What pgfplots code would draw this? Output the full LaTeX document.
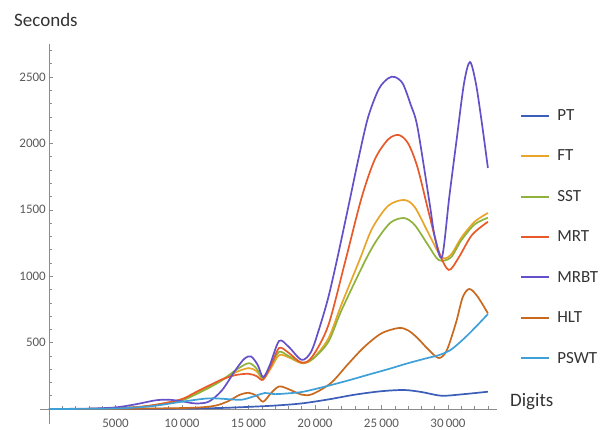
\documentclass[border=0pt]{standalone}
\usepackage{fontspec}
\setmainfont{Carlito}
\usepackage{pgfplots}
\pgfplotsset{compat=1.18}

\definecolor{cPT}{HTML}{3C5DB8}
\definecolor{cFT}{HTML}{E8A52A}
\definecolor{cSST}{HTML}{8FB33A}
\definecolor{cMRT}{HTML}{E85A2A}
\definecolor{cMRBT}{HTML}{6450C8}
\definecolor{cHLT}{HTML}{C8691E}
\definecolor{cPSWT}{HTML}{3FA0D8}
\definecolor{axisgray}{HTML}{8C8C8C}
\definecolor{labelgray}{HTML}{5A5A5A}

\begin{document}
\begin{tikzpicture}[x=1pt,y=1pt]
\useasboundingbox (0,0) rectangle (609,430);
\begin{axis}[
  at={(49pt,21pt)}, anchor=origin,
  x=0.0133pt, y=0.1328pt,
  xmin=-700, xmax=33700, ymin=-110, ymax=2750,
  axis lines*=middle,
  axis line style={axisgray, line width=0.6pt},
  clip=false,
  scaled x ticks=false, scaled y ticks=false,
  xtick={5000,10000,15000,20000,25000,30000},
  xticklabels={5000,10\,000,15\,000,20\,000,25\,000,30\,000},
  minor xtick={1000,2000,...,33000},
  ytick={500,1000,1500,2000,2500},
  yticklabels={500,1000,1500,2000,2500},
  minor ytick={100,200,...,2700},
  tick align=inside,
  major tick length=4pt, minor tick length=2.5pt,
  every tick/.style={axisgray, line width=0.5pt},
  tick label style={font=\fontsize{13}{13}\selectfont, text=labelgray},
  x tick label style={inner sep=2pt, yshift=-8pt},
  y tick label style={inner sep=3pt},
  /pgf/number format/assume math mode=true,
  legend style={at={(1.0435,0.838)}, anchor=north west, draw=none, fill=none,
    font=\fontsize{17}{17}\selectfont, text=black!80, row sep=24pt,
    /tikz/every odd column/.append style={column sep=5pt}},
  legend cell align=left,
  legend image code/.code={\draw[#1, line width=2pt] (0pt,0pt) -- (28pt,0pt);},
  every axis plot/.append style={line width=1.7pt, smooth, tension=0.5},
]
\addplot[cPT] coordinates {(0,0)(5000,1)(10000,3)(13000,8)(15000,16)(17000,26)(19000,42)(21000,72)(23000,108)(25000,134)(26700,143)(28000,128)(29500,100)(31000,110)(33000,130)};
\addlegendentry{PT}
\addplot[cFT] coordinates {(0,0)(3000,1)(5000,5)(7000,18)(8500,40)(10000,72)(11000,118)(12000,168)(13000,222)(14000,275)(15000,308)(15600,285)(16100,228)(16700,310)(17300,405)(18000,390)(19000,345)(19800,375)(21000,530)(22000,790)(23350,1122)(24300,1360)(25500,1530)(26700,1574)(27500,1520)(28500,1330)(29500,1145)(30200,1160)(31000,1290)(32000,1410)(33000,1476)};
\addlegendentry{FT}
\addplot[cSST] coordinates {(0,0)(3000,1)(5000,4)(7000,16)(8500,35)(10000,65)(11000,108)(12000,158)(13000,215)(14000,290)(15000,345)(15600,305)(16100,230)(16700,330)(17300,430)(18000,400)(19000,350)(19800,375)(21000,505)(22000,745)(23800,1122)(24700,1280)(25700,1405)(26700,1438)(27500,1385)(28500,1235)(29300,1122)(30200,1140)(31000,1270)(32000,1390)(33000,1440)};
\addlegendentry{SST}
\addplot[cMRT] coordinates {(0,0)(3000,1)(5000,5)(7000,18)(8500,40)(10000,75)(11000,125)(12000,175)(13000,222)(14000,255)(15000,265)(15600,248)(16100,220)(16700,330)(17300,459)(18000,425)(19000,348)(19800,395)(21000,630)(22300,1122)(23500,1590)(24500,1880)(25500,2030)(26300,2063)(27000,2000)(27700,1822)(28500,1500)(29300,1190)(30050,1047)(30800,1140)(31800,1310)(33000,1410)};
\addlegendentry{MRT}
\addplot[cMRBT] coordinates {(0,0)(3000,3)(5000,12)(6500,35)(8000,65)(9000,70)(10000,58)(11000,42)(12000,55)(13000,140)(14000,290)(14700,380)(15200,395)(15700,330)(16100,240)(16600,330)(17300,512)(18000,470)(19000,370)(19700,430)(20300,600)(21000,840)(21700,1145)(22500,1520)(23300,1900)(24000,2200)(24800,2410)(25500,2490)(26000,2500)(26600,2450)(27200,2290)(27700,2124)(28600,1560)(29000,1300)(29550,1145)(30100,1600)(30650,2030)(31200,2450)(31650,2613)(32100,2450)(32550,2150)(33000,1815)};
\addlegendentry{MRBT}
\addplot[cHLT] coordinates {(0,0)(5000,1)(8000,4)(11000,10)(12500,25)(13500,60)(14300,105)(15000,122)(15600,100)(16100,55)(16700,120)(17300,170)(18000,150)(19000,108)(19800,112)(21200,196)(22500,340)(23700,467)(25000,570)(26300,610)(27000,592)(27700,535)(28500,450)(29300,384)(29900,440)(30600,650)(31100,840)(31600,904)(32200,850)(33000,720)};
\addlegendentry{HLT}
\addplot[cPSWT] coordinates {(0,0)(4000,2)(6000,8)(8000,25)(10000,55)(12000,80)(13500,74)(14500,70)(15500,98)(16200,120)(17000,112)(18000,118)(19000,128)(20000,150)(21000,175)(22500,215)(24000,258)(25500,300)(27000,345)(28500,385)(29300,405)(30200,445)(31200,530)(32200,630)(33000,715)};
\addlegendentry{PSWT}
\end{axis}
\node[anchor=west, text=black!80, font=\fontsize{19}{19}\selectfont, inner sep=0pt] at (14,410) {Seconds};
\node[anchor=west, text=black!80, font=\fontsize{19}{19}\selectfont, inner sep=0pt] at (510,28) {Digits};
\end{tikzpicture}
\end{document}
